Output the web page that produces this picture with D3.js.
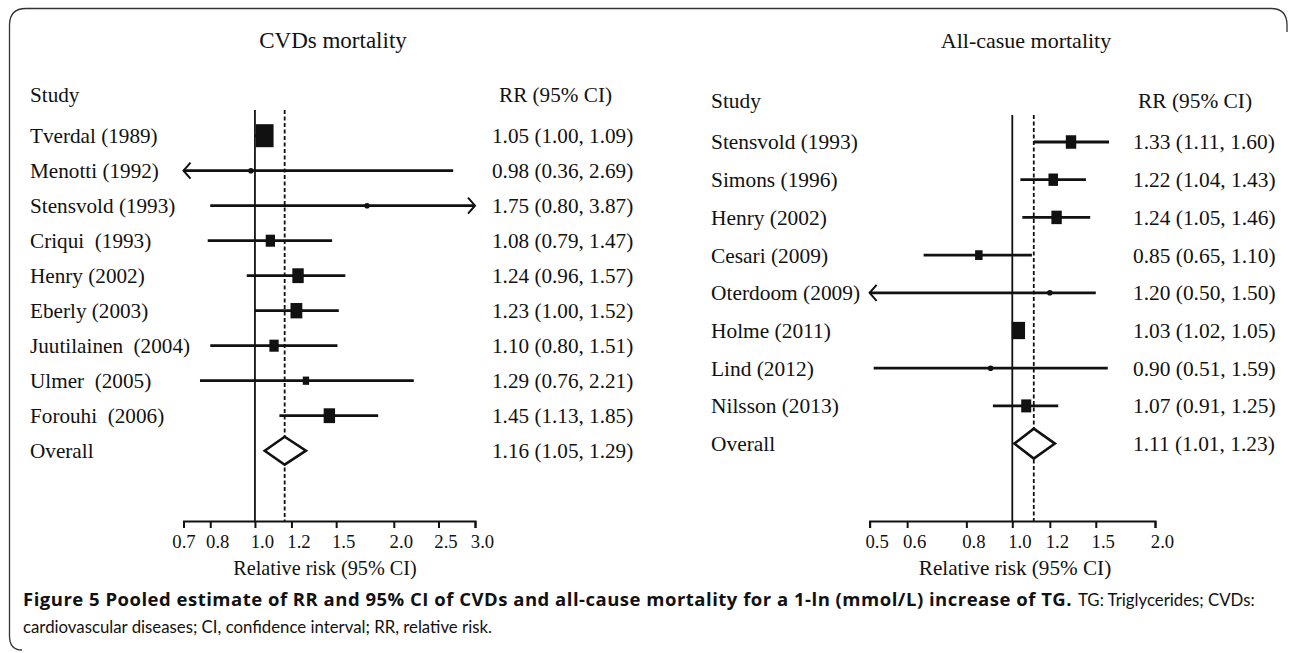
<!DOCTYPE html>
<html>
<head>
<meta charset="utf-8">
<script src="https://cdn.jsdelivr.net/npm/d3@7"></script>
<style>
  html, body { margin: 0; padding: 0; background: #fff; }
  svg text { fill: #111; }
</style>
</head>
<body>
<svg id="chart" width="1290" height="653"></svg>
<script>
// ---- CVDs mortality ----
const cvdStudies = ["Tverdal (1989)", "Menotti (1992)", "Stensvold (1993)", "Criqui  (1993)",
  "Henry (2002)", "Eberly (2003)", "Juutilainen  (2004)", "Ulmer  (2005)", "Forouhi  (2006)"];
const cvdRR    = [1.05, 0.98, 1.75, 1.08, 1.24, 1.23, 1.10, 1.29, 1.45];
const cvdLower = [1.00, 0.36, 0.80, 0.79, 0.96, 1.00, 0.80, 0.76, 1.13];
const cvdUpper = [1.09, 2.69, 3.87, 1.47, 1.57, 1.52, 1.51, 2.21, 1.85];
const cvdWeight = [33.5, 0.6, 0.6, 9.2, 13.9, 14.9, 9.2, 4.3, 13.9]; // 从方块大小估计
const cvdOverall = [1.16, 1.05, 1.29];
const cvdTicks = [0.7, 0.8, 1.0, 1.2, 1.5, 2.0, 2.5, 3.0];

// ---- All-cause mortality ----
const allStudies = ["Stensvold (1993)", "Simons (1996)", "Henry (2002)", "Cesari (2009)",
  "Oterdoom (2009)", "Holme (2011)", "Lind (2012)", "Nilsson (2013)"];
const allRR    = [1.33, 1.22, 1.24, 0.85, 1.20, 1.03, 0.90, 1.07];
const allLower = [1.11, 1.04, 1.05, 0.65, 0.50, 1.02, 0.51, 0.91];
const allUpper = [1.60, 1.43, 1.46, 1.10, 1.50, 1.05, 1.59, 1.25];
const allWeight = [16.7, 14.0, 16.7, 8.7, 0.5, 27.4, 0.5, 15.5];
const allOverall = [1.11, 1.01, 1.23];
const allTicks = [0.5, 0.6, 0.8, 1.0, 1.2, 1.5, 2.0];

const svg = d3.select("#chart");
const serif = "'Liberation Serif', 'Times New Roman', serif";
const fmt = d3.format(".2f");

// 外框（原图只露出左边和上边）
svg.append("path")
  .attr("d", "M9.5,636 Q9.5,650 22,650 M9.5,636 L9.5,25 Q9.5,8.5 26,8.5 L1271,8.5 Q1287,8.5 1287,25 L1287,32")
  .attr("fill", "none")
  .attr("stroke", "#333")
  .attr("stroke-width", 1.3);

function drawForest(p) {
  const g = svg.append("g");
  const n = p.studies.length;
  const font = `${p.fontSize}px ${serif}`;

  const x = d3.scaleLog()
    .domain(d3.extent(p.ticks))
    .range(p.xRange);

  const y = d3.scalePoint()
    .domain([...p.studies, "Overall"])
    .range([p.rowTop, p.rowTop + p.rowStep * n]);

  const box = d3.scaleSqrt()
    .domain([0, d3.max(p.weight)])
    .range([0, p.maxBox]);

  const [xmin, xmax] = x.domain();
  const axisY = p.axisY;

  // 标题
  g.append("text")
    .attr("x", p.titleX).attr("y", p.titleY)
    .attr("text-anchor", "middle")
    .style("font", `${p.titleSize}px ${serif}`)
    .text(p.title);

  g.append("text")
    .attr("x", p.labelX).attr("y", p.headerY)
    .attr("dy", "0.35em")
    .style("font", font)
    .text("Study");

  g.append("text")
    .attr("x", p.headerX).attr("y", p.headerY)
    .attr("dy", "0.35em")
    .style("font", font)
    .text("RR (95% CI)");

  // 无效线 + 合并效应虚线
  g.append("line")
    .attr("x1", x(1)).attr("x2", x(1))
    .attr("y1", p.lineTop).attr("y2", axisY)
    .attr("stroke", "#111").attr("stroke-width", 1.8);

  g.append("line")
    .attr("x1", x(p.overall[0])).attr("x2", x(p.overall[0]))
    .attr("y1", p.lineTop).attr("y2", axisY)
    .attr("stroke", "#111").attr("stroke-width", 1.8)
    .attr("stroke-dasharray", "4,2.5");

  const rows = p.studies.map((s, i) => ({
    name: s, rr: p.rr[i], lo: p.lower[i], hi: p.upper[i], w: p.weight[i]
  }));

  const row = g.selectAll(".row").data(rows).join("g").attr("class", "row");

  row.append("text")
    .attr("x", p.labelX).attr("y", d => y(d.name))
    .attr("dy", "0.35em")
    .style("font", font)
    .style("white-space", "pre")
    .text(d => d.name);

  row.append("text")
    .attr("x", p.valueX).attr("y", d => y(d.name))
    .attr("dy", "0.35em")
    .style("font", font)
    .text(d => `${fmt(d.rr)} (${fmt(d.lo)}, ${fmt(d.hi)})`);

  // CI 线，超出坐标范围的画箭头
  row.append("line")
    .attr("x1", d => x(Math.max(d.lo, xmin)))
    .attr("x2", d => x(Math.min(d.hi, xmax)))
    .attr("y1", d => y(d.name)).attr("y2", d => y(d.name))
    .attr("stroke", "#111").attr("stroke-width", 2.8);

  row.filter(d => d.lo <= xmin).append("path")
    .attr("d", d => `M${x(xmin) + 7},${y(d.name) - 8}L${x(xmin)},${y(d.name)}L${x(xmin) + 7},${y(d.name) + 8}`)
    .attr("fill", "none").attr("stroke", "#111").attr("stroke-width", 2);

  row.filter(d => d.hi >= xmax).append("path")
    .attr("d", d => `M${x(xmax) - 7},${y(d.name) - 8}L${x(xmax)},${y(d.name)}L${x(xmax) - 7},${y(d.name) + 8}`)
    .attr("fill", "none").attr("stroke", "#111").attr("stroke-width", 2);

  row.append("circle")
    .attr("cx", d => x(d.rr)).attr("cy", d => y(d.name))
    .attr("r", 2.8).attr("fill", "#111");

  row.append("rect")
    .attr("x", d => x(d.rr) - box(d.w) / 2)
    .attr("y", d => y(d.name) - box(d.w) * 1.3 / 2)
    .attr("width", d => box(d.w))
    .attr("height", d => box(d.w) * 1.3)
    .attr("fill", "#111");

  // Overall
  const oy = y("Overall");
  g.append("text")
    .attr("x", p.labelX).attr("y", oy).attr("dy", "0.35em")
    .style("font", font)
    .text("Overall");

  g.append("text")
    .attr("x", p.valueX).attr("y", oy).attr("dy", "0.35em")
    .style("font", font)
    .text(`${fmt(p.overall[0])} (${fmt(p.overall[1])}, ${fmt(p.overall[2])})`);

  g.append("path")
    .attr("d", `M${x(p.overall[1])},${oy}L${x(p.overall[0])},${oy - p.diamondH}L${x(p.overall[2])},${oy}L${x(p.overall[0])},${oy + p.diamondH}Z`)
    .attr("fill", "#fff").attr("stroke", "#111").attr("stroke-width", 2.6);

  // x 轴
  const ax = g.append("g")
    .attr("transform", `translate(0,${axisY})`)
    .call(d3.axisBottom(x)
      .tickValues(p.ticks)
      .tickFormat(d3.format(".1f"))
      .tickSizeOuter(0)
      .tickSize(7)
      .tickPadding(7));
  ax.select(".domain").attr("stroke", "#111").attr("stroke-width", 2);
  ax.selectAll(".tick line").attr("stroke", "#111").attr("stroke-width", 2);
  ax.selectAll(".tick text")
    .attr("fill", "#111")
    .attr("dx", (d, i) => (i === 0 ? p.firstLabelDx : 7))
    .style("font", `18.7px ${serif}`);

  g.append("text")
    .attr("x", p.axisTitleX).attr("y", axisY + 54)
    .attr("text-anchor", "middle")
    .style("font", `${p.axisTitleSize}px ${serif}`)
    .text("Relative risk (95% CI)");
}

drawForest({
  title: "CVDs mortality", titleX: 333, titleY: 48, titleSize: 23,
  studies: cvdStudies, rr: cvdRR, lower: cvdLower, upper: cvdUpper, weight: cvdWeight,
  overall: cvdOverall, ticks: cvdTicks, fontSize: 21.2,
  xRange: [183.5, 475], rowTop: 135.7, rowStep: 35, lineTop: 110, axisY: 521,
  labelX: 30, valueX: 492, headerX: 499, headerY: 95, maxBox: 17.7, diamondH: 14,
  axisTitleX: 325, axisTitleSize: 20.2, firstLabelDx: 0
});

drawForest({
  title: "All-casue mortality", titleX: 1026, titleY: 48, titleSize: 22,
  studies: allStudies, rr: allRR, lower: allLower, upper: allUpper, weight: allWeight,
  overall: allOverall, ticks: allTicks, fontSize: 21.4,
  xRange: [869.6, 1155], rowTop: 142, rowStep: 37.7, lineTop: 115, axisY: 521,
  labelX: 711, valueX: 1133, headerX: 1138, headerY: 101, maxBox: 13.3, diamondH: 15,
  axisTitleX: 1015, axisTitleSize: 21.2, firstLabelDx: 7
});

// 图注
svg.append("text")
  .attr("x", 23).attr("y", 606)
  .attr("fill", "#231f20")
  .style("font-family", "'Open Sans', 'Noto Sans', sans-serif")
  .style("font-size", "18.5px")
  .style("font-weight", "bold")
  .style("letter-spacing", "0.5px")
  .text("Figure 5 Pooled estimate of RR and 95% CI of CVDs and all-cause mortality for a 1-ln (mmol/L) increase of TG.");

svg.append("text")
  .attr("x", 1078).attr("y", 606)
  .attr("fill", "#505050")
  .style("font-family", "Lato, 'Open Sans', sans-serif")
  .style("font-size", "16.8px")
  .text("TG: Triglycerides; CVDs:");

svg.append("text")
  .attr("x", 23).attr("y", 633)
  .attr("fill", "#505050")
  .style("font-family", "Lato, 'Open Sans', sans-serif")
  .style("font-size", "16.8px")
  .text("cardiovascular diseases; CI, confidence interval; RR, relative risk.");
</script>
</body>
</html>
